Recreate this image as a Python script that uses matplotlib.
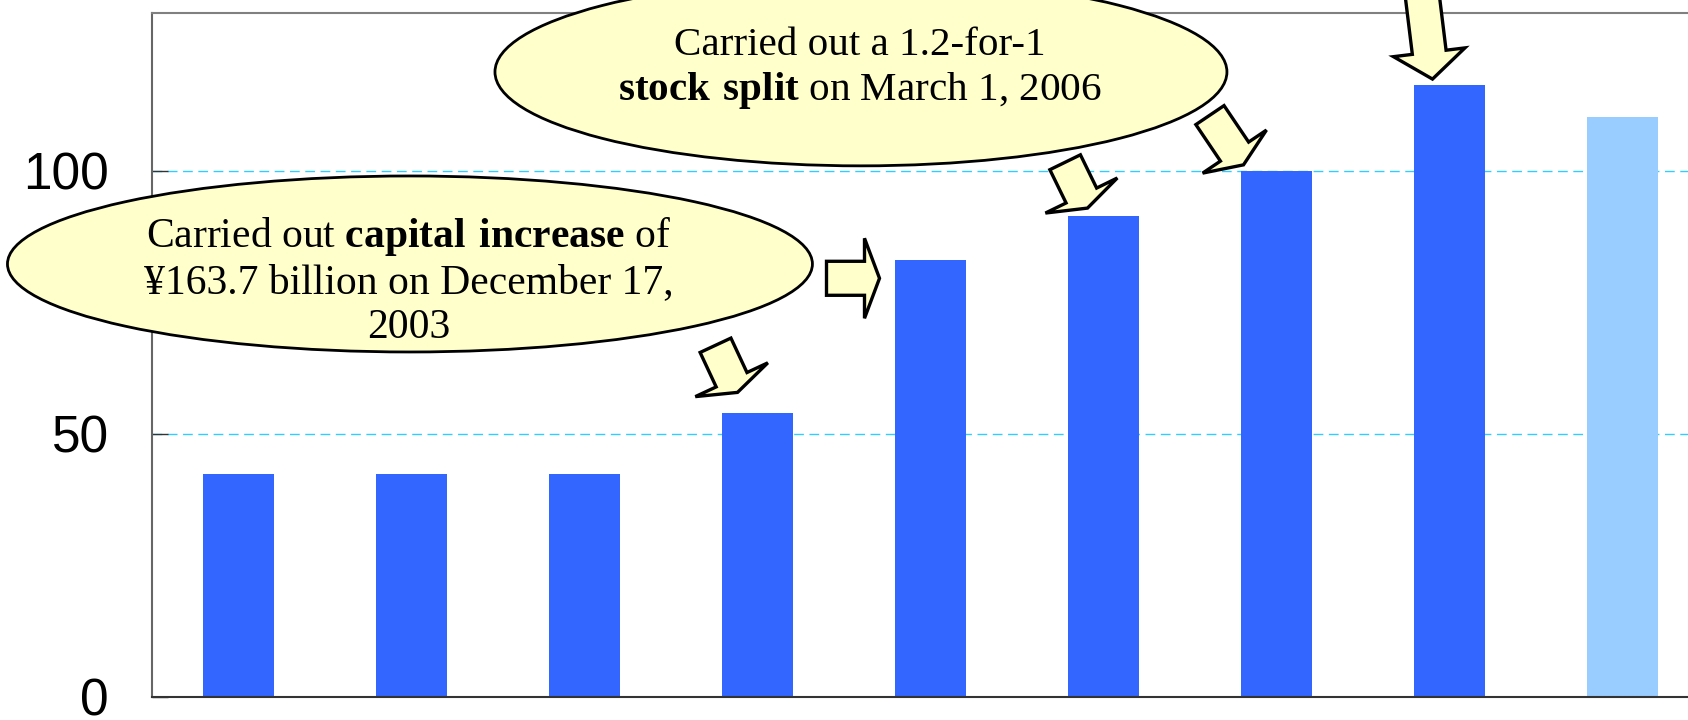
import matplotlib
matplotlib.use('Agg')
import matplotlib.pyplot as plt
from matplotlib.patches import Ellipse, Polygon
from matplotlib.transforms import Affine2D, ScaledTranslation

plt.rcParams['font.family'] = ['Liberation Sans', 'DejaVu Sans']
plt.rcParams['mathtext.fontset'] = 'custom'
plt.rcParams['mathtext.rm'] = 'Liberation Serif'
plt.rcParams['mathtext.bf'] = 'Liberation Serif:bold'

# data (x labels are cropped off in the original)
periods = list(range(9))
values = [42.3, 42.3, 42.3, 53.9, 83.0, 91.4, 100.0, 116.3, 110.2]
bar_colors = ['#3366FF'] * 8 + ['#99CCFF']
yticks = [0, 50, 100]
ytick_labels = ['0', '50', '100']

note_capital = "Carried out $\\mathbf{capital\\ increase}$ of\n¥163.7 billion on December 17,\n2003"
note_split = "Carried out a 1.2-for-1\n$\\mathbf{stock\\ split}$ on March 1, 2006"

# block arrows: bar index, tip offset from bar top (px), angle, length, head len, head width
arrows = [
    (3, -20, 21, -65, 52, 14, 80),
    (4, -51, -18, 0, 53, 15, 80),
    (5, -16, 8, -64, 51, 14, 80),
    (6, -33, 6, -56, 60, 16, 77),
    (7, -17, 6, -83, 110, 27, 72),
]
body_w = 34

fig = plt.figure(figsize=(16.88, 7.2), dpi=100)
ax = fig.add_axes([152 / 1688, 23 / 720, 1557 / 1688, 684 / 720])

ax.bar(periods, values, width=0.41, color=bar_colors, zorder=2)
ax.set_xlim(-0.5, 8.5)
ax.set_ylim(0, 130)
ax.set_yticks(yticks)
ax.set_yticklabels(ytick_labels)
ax.tick_params(axis='y', direction='in', length=11.5, width=1, pad=31,
               labelsize=37, color='#333333')
ax.tick_params(axis='x', bottom=False, labelbottom=False)
ax.set_axisbelow(True)
ax.yaxis.grid(True, color='#33CCFF', linestyle=(0, (7, 4)), linewidth=1)

ax.spines['right'].set_visible(False)
ax.spines['top'].set_color('#808080')
ax.spines['left'].set_color('#666666')
ax.spines['bottom'].set_color('#333333')
for s in ['top', 'left', 'bottom']:
    ax.spines[s].set_linewidth(1.5)

# callout ellipses
ax.add_patch(Ellipse((0.991, 82.3), 4.653, 33.45, facecolor='#FFFFCC',
                     edgecolor='black', linewidth=2, zorder=5, clip_on=False))
ax.add_patch(Ellipse((3.598, 118.8), 4.231, 35.7, facecolor='#FFFFCC',
                     edgecolor='black', linewidth=2, zorder=5, clip_on=False))
ax.text(0.986, 79.1, note_capital, ha='center', va='center', fontsize=30,
        family='Liberation Serif', zorder=6, linespacing=1.2)
ax.text(3.592, 119.4, note_split, ha='center', va='center', fontsize=29.6,
        family='Liberation Serif', zorder=6, linespacing=1.2, clip_on=False)

# arrows anchored to bar tops
for i, dx, dy, ang, L, hl, hw in arrows:
    verts = [(0, 0), (-hl, hw / 2), (-hl, body_w / 2), (-L, body_w / 2),
             (-L, -body_w / 2), (-hl, -body_w / 2), (-hl, -hw / 2)]
    tr = Affine2D().rotate_deg(ang).translate(dx, dy) + \
        ScaledTranslation(periods[i], values[i], ax.transData)
    ax.add_patch(Polygon(verts, closed=True, transform=tr, facecolor='#FFFFCC',
                         edgecolor='black', linewidth=2.4, joinstyle='miter',
                         zorder=7, clip_on=False))

fig.savefig('out.png', dpi=100)
